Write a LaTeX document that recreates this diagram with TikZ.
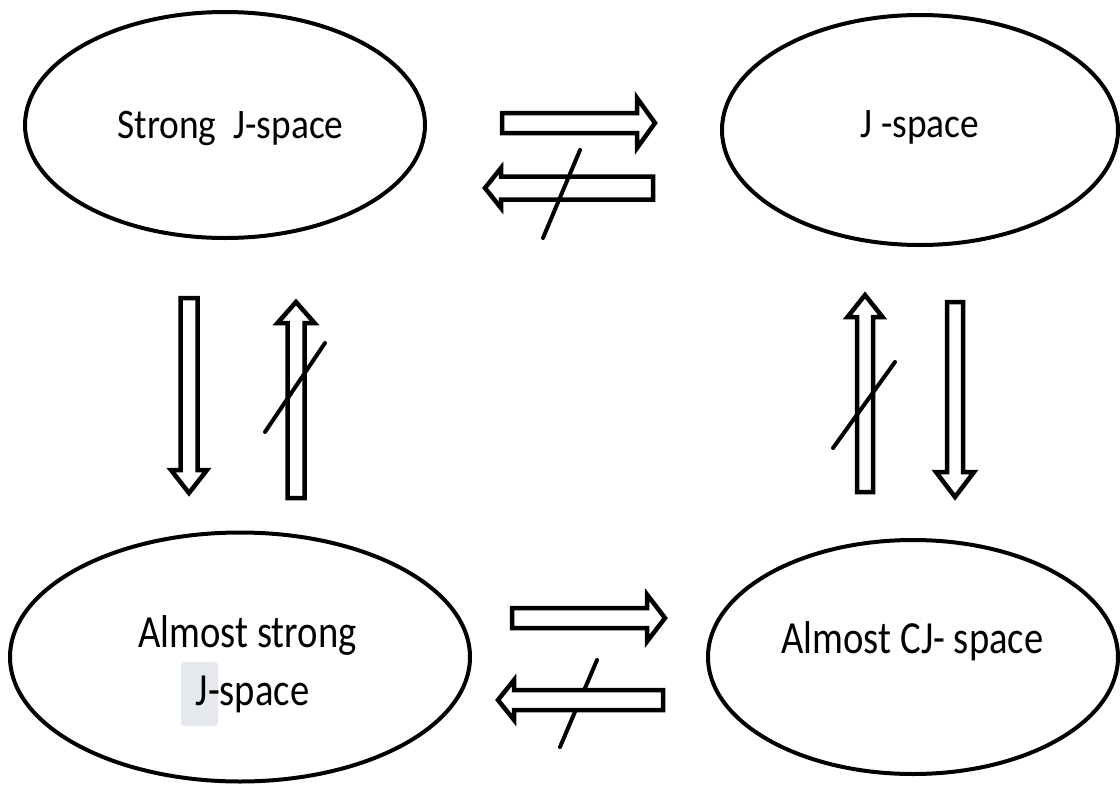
\documentclass[tikz,border=0pt]{standalone}
\usepackage{fontspec}
\setmainfont{Carlito}
\newfontfamily\topfont[FakeStretch=0.89]{Carlito}
\newfontfamily\botfont[FakeStretch=0.84]{Carlito}
\usetikzlibrary{shapes.geometric}
\newcommand{\harrow}[6]{%
  \draw[hollowarrow, shift={#1}, rotate=#2] (0,-#4) -- ({#3-#6},-#4) -- ({#3-#6},-#5) -- (#3,0) -- ({#3-#6},#5) -- ({#3-#6},#4) -- (0,#4) -- cycle;}
\definecolor{hl}{RGB}{229,232,236}
\begin{document}
\begin{tikzpicture}[x=1pt,y=-1pt,
  ell/.style={draw, ellipse, line width=4pt, inner sep=0pt},
  toplbl/.style={anchor=base, inner sep=0pt, text=black, font=\topfont\fontsize{42}{50}\selectfont},
  botlbl/.style={anchor=base, inner sep=0pt, text=black, font=\botfont\fontsize{46}{58}\selectfont},
  hollowarrow/.style={draw, line width=4.5pt, fill=white, line join=miter},
  slash/.style={line width=4pt, line cap=round}]
\useasboundingbox (0,0) rectangle (1120,785);
% ellipses
\node[ell, minimum width=400pt, minimum height=226pt] (sj) at (225,125) {};
\node[ell, minimum width=396pt, minimum height=230pt] (js) at (920,130) {};
\node[ell, minimum width=460pt, minimum height=249pt] (asj) at (240,657) {};
\node[ell, minimum width=410pt, minimum height=234pt] (acj) at (913,657) {};
% labels
\fill[hl, rounded corners=3pt] (181,662) rectangle (218,726);
\node[toplbl] (sjt) at (230.5,138) {Strong\ \ J-space};
\node[toplbl] (jst) at (920,137) {J -space};
\node[botlbl] (asjt1) at (247.5,647) {Almost strong};
\node[botlbl] (asjt2) at (252.5,705) {J-space};
\node[botlbl] (acjt) at (912.5,653) {Almost CJ- space};
% top pair
\harrow{(502,123)}{0}{153}{10}{25}{18}
\harrow{(653,188)}{180}{168}{11.5}{20}{16}
\draw[slash] (580,150) -- (543,238);
% left verticals
\harrow{(189,298)}{-90}{195}{8.5}{18}{23}
\harrow{(296,498)}{90}{196}{8.5}{18.5}{21}
\draw[slash] (325,343) -- (265,432);
% right verticals
\harrow{(865,492)}{90}{197}{8}{17.5}{22}
\harrow{(955,302)}{-90}{195}{8}{19}{25}
\draw[slash] (895,362) -- (833,448);
% bottom pair
\harrow{(512,618)}{0}{153}{10}{23.5}{18}
\draw[slash] (597,660) -- (560,747);
\harrow{(663,700)}{180}{165}{10}{20}{16}
\end{tikzpicture}
\end{document}
